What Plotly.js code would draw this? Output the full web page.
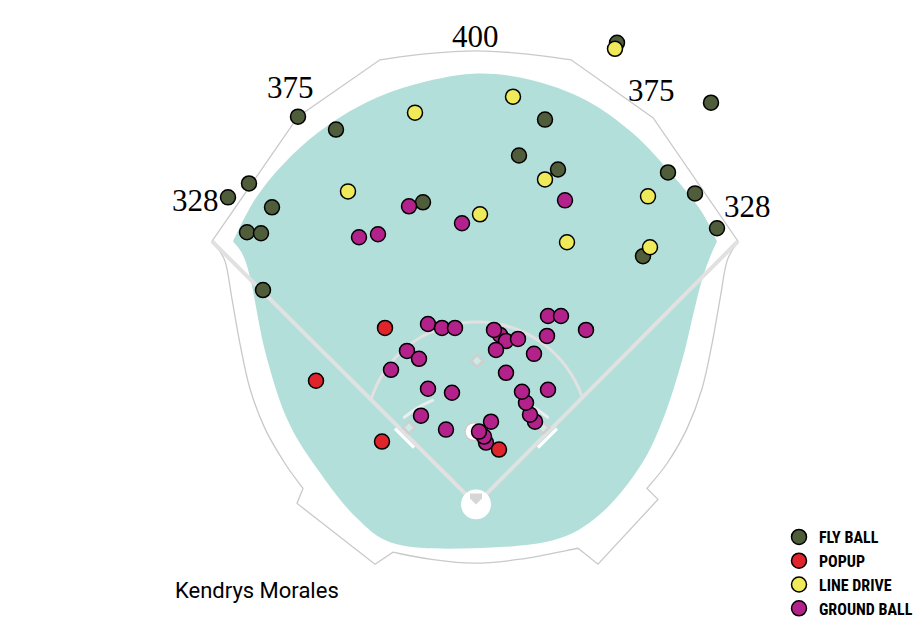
<!DOCTYPE html>
<html><head><meta charset="utf-8">
<script src="https://cdn.plot.ly/plotly-3.0.1.min.js"></script>
<style>html,body{margin:0;padding:0;background:#fff}#chart{width:922px;height:626px}</style>
</head><body><div id="chart"></div>
<script>
// Batted-ball landing spots relative to home plate (x: toward right field, y: toward center field), chart units
const flyBallX = [141, 235, -178, -140, 69, 43, 82, 192, 219, 241, -227, -248, -204, -53, -229, -215, -213, 167];
const flyBallY = [463, 403, 389, 376, 386, 350, 336, 333, 312, 277, 322, 308, 298, 303, 273, 272, 215, 249];

const popupX = [-91, -160, -94, 23];
const popupY = [177, 124, 63, 55];

const lineDriveX = [139, -61, 37, -128, 69, 4, 172, 91, 174];
const lineDriveY = [457, 393, 409, 314, 326, 291, 309, 263, 258];

const groundBallX = [24, -67, -117, -98, 89, -14, -48, -34, -21, -69, -57, -85, -48, -24, -55, -30, 18, 30, 42, 20, 72, 85, 110, 71, 58, 30, 59, 54, 50, 46, 72, 15, 10, 8, 3];
const groundBallY = [170, 299, 268, 271, 305, 282, 181, 177, 177, 154, 146, 135, 116, 112, 89, 75, 175, 164, 166, 155, 189, 189, 175, 169, 151, 132, 83, 90, 102, 113, 115, 83, 62, 68, 73];

const typeNames = ["FLY BALL", "POPUP", "LINE DRIVE", "GROUND BALL"];
const typeColors = ["#4f5d3b", "#e0242c", "#eeea5a", "#b3228b"];

const distanceLabels = ["400", "375", "375", "328", "328"];
const distanceLabelX = [-1, -186, 175, -281, 271];
const distanceLabelY = [469, 418, 415, 305, 299];

const batterName = "Kendrys Morales";

// ---------- field drawing (decoration) ----------
const HX = 476, HY = 506;
const rel = p => [p[0] - HX, HY - p[1]];
function fmt(p){ return p[0].toFixed(1) + "," + p[1].toFixed(1); }
function smooth(pts){ // catmull-rom through pts (rel coords), returns C commands
  let s = "";
  for (let i = 0; i < pts.length - 1; i++) {
    const p0 = pts[Math.max(0, i - 1)], p1 = pts[i], p2 = pts[i + 1], p3 = pts[Math.min(pts.length - 1, i + 2)];
    const c1 = [p1[0] + (p2[0] - p0[0]) / 6, p1[1] + (p2[1] - p0[1]) / 6];
    const c2 = [p2[0] - (p3[0] - p1[0]) / 6, p2[1] - (p3[1] - p1[1]) / 6];
    s += " C" + fmt(c1) + " " + fmt(c2) + " " + fmt(p2);
  }
  return s;
}
const R = a => a.map(rel);

// grass
const grassTop = R([[233,242],[255,200],[283,165],[318,133],[360,106],[410,86],[473,74],[530,80],[585,100],[632,133],[672,175],[700,210],[717,242]]);
const grassBottom = R([[717,242],[708,263],[700,288],[691,325],[682,362],[664,418],[640,468],[600,516],[553,542],[473,550],[397,546],[357,520],[317,470],[287,420],[265,352],[251,282],[243,256],[233,242]]);
const grassPath = "M" + fmt(grassTop[0]) + smooth(grassTop) + smooth(grassBottom) + " Z";

// fence outline
const fLeft = R([[212,242],[225,262],[232,300],[240,345],[250,390],[265,430],[285,465],[303,490]]);
const fBottom = R([[393,554],[430,561],[473,565],[520,561],[578,550]]);
const fRight = R([[647,490],[667,465],[687,430],[702,390],[712,345],[720,300],[727,262],[738,242]]);
const fTop = R([[571,60],[525,54],[476,51],[425,54],[380,60]]);
const L = p => " L" + fmt(rel(p));
const fencePath = "M" + fmt(fLeft[0]) + smooth(fLeft) + L([297,505]) + L([375,566]) + L([393,554]) + smooth(fBottom)
  + L([598,566]) + L([658,501]) + L([647,490]) + smooth(fRight) + L([653,118]) + L([571,60]) + smooth(fTop) + L([298,117]) + " Z";

function arcPath(cx, cy, r, a0, a1, n){
  let s = "";
  for (let i = 0; i <= n; i++) {
    const a = (a0 + (a1 - a0) * i / n) * Math.PI / 180;
    s += (i ? " L" : "M") + fmt([cx + r * Math.cos(a), cy + r * Math.sin(a)]);
  }
  return s;
}
function diamond(cx, cy, h){ return "M" + fmt([cx, cy + h]) + " L" + fmt([cx + h, cy]) + " L" + fmt([cx, cy - h]) + " L" + fmt([cx - h, cy]) + " Z"; }

const lineGrey = "#e1e1e1";
const shapes = [
  {type: "path", path: grassPath, fillcolor: "#b3dfdb", line: {width: 0}, layer: "below"},
  {type: "path", path: fencePath, fillcolor: "rgba(0,0,0,0)", line: {color: "#c9c9c9", width: 1.3}, layer: "below"},
  {type: "line", x0: 0, y0: 0, x1: -264, y1: 264, line: {color: lineGrey, width: 4}, layer: "below"},
  {type: "line", x0: 0, y0: 0, x1: 262, y1: 264, line: {color: lineGrey, width: 4}, layer: "below"},
  {type: "path", path: arcPath(1, 72, 111, 18, 163, 60), line: {color: lineGrey, width: 3}, layer: "below"},
  {type: "path", path: arcPath(0, 0, 113, 112, 130, 12), line: {color: "#e9eeee", width: 3}, layer: "below"},
  {type: "path", path: arcPath(0, 0, 113, 50, 68, 12), line: {color: "#e9eeee", width: 3}, layer: "below"},
  {type: "line", x0: -81, y0: 76, x1: -62, y1: 57, line: {color: "#ffffff", width: 3}, layer: "below"},
  {type: "line", x0: 81, y0: 76, x1: 62, y1: 57, line: {color: "#ffffff", width: 3}, layer: "below"},
  {type: "path", path: diamond(-67, 77, 6), line: {color: "#cfcfcf", width: 2.5}, fillcolor: "rgba(255,255,255,0.35)", layer: "below"},
  {type: "path", path: diamond(67, 77, 6), line: {color: "#cfcfcf", width: 2.5}, fillcolor: "rgba(255,255,255,0.35)", layer: "below"},
  {type: "path", path: diamond(1, 144, 6), line: {color: "#cfcfcf", width: 2.5}, fillcolor: "rgba(255,255,255,0.35)", layer: "below"},
  {type: "circle", x0: -11, y0: 64, x1: 7, y1: 82, fillcolor: "#ffffff", line: {color: "#cccccc", width: 1.5}, layer: "below"},
  {type: "circle", x0: -15, y0: -15, x1: 15, y1: 15, fillcolor: "#ffffff", line: {width: 0}, layer: "below"},
  {type: "path", path: "M-6,11 L6,11 L6,6 L0,0 L-6,6 Z", fillcolor: "#d6d6d6", line: {width: 0}, layer: "below"}
];

// ---------- traces ----------
function trace(x, y, i, rank){
  return {
    type: "scatter", mode: "markers", x: x, y: y, name: typeNames[i], legendrank: rank,
    marker: {size: 15, color: typeColors[i], line: {color: "#000000", width: 1.5}},
    hoverinfo: "name"
  };
}
const data = [
  trace(flyBallX, flyBallY, 0, 1),
  trace(lineDriveX, lineDriveY, 2, 3),
  trace(groundBallX, groundBallY, 3, 4),
  trace(popupX, popupY, 1, 2)
];

const annotations = distanceLabels.map((t, i) => ({
  text: t, x: distanceLabelX[i], y: distanceLabelY[i], xref: "x", yref: "y", showarrow: false,
  font: {family: "Liberation Serif, Times New Roman, serif", size: 31, color: "#000"}
}));

const layout = {
  width: 922, height: 626,
  margin: {l: 0, r: 0, t: 0, b: 0},
  paper_bgcolor: "#ffffff", plot_bgcolor: "#ffffff",
  xaxis: {range: [-476, 446], visible: false, fixedrange: true},
  yaxis: {range: [-120, 506], visible: false, fixedrange: true},
  shapes: shapes,
  annotations: annotations,
  title: {text: batterName, x: 175 / 922, xanchor: "left", y: 1 - 590 / 626, yanchor: "middle",
          font: {family: "Roboto, sans-serif", size: 22, color: "#000"}},
  showlegend: true,
  legend: {x: 779 / 922, xanchor: "left", y: 1 - 522 / 626, yanchor: "top", bgcolor: "rgba(0,0,0,0)",
           font: {family: "Liberation Sans Narrow, Roboto Condensed, Roboto, sans-serif", size: 16, weight: "bold", color: "#000"}},
  hovermode: "closest"
};

Plotly.newPlot("chart", data, layout, {displayModeBar: false});
</script>
</body></html>
